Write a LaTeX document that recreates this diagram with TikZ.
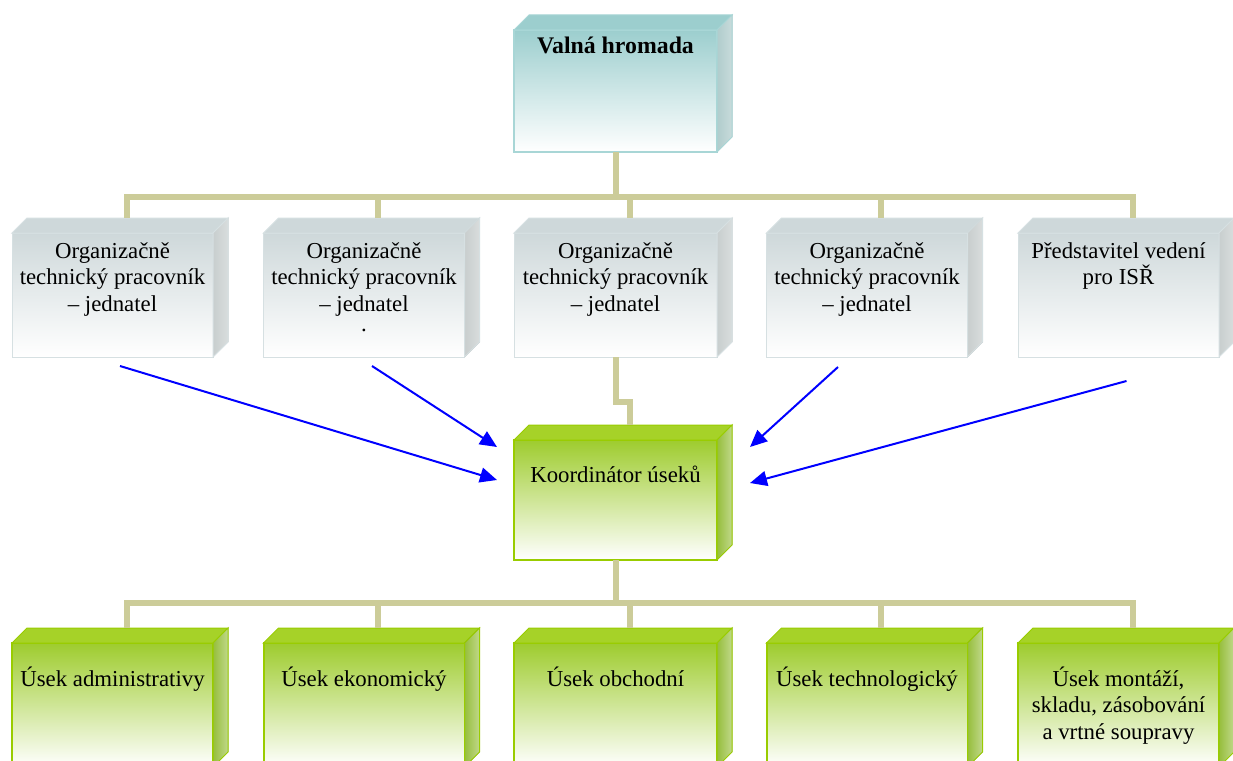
\documentclass[tikz,border=0pt]{standalone}
\usepackage{fontspec}
\setmainfont{Liberation Serif}
\usetikzlibrary{calc,arrows.meta}
\definecolor{connc}{RGB}{204,204,153}
\definecolor{tealA}{RGB}{156,206,206}
\definecolor{tealB}{RGB}{168,214,214}
\definecolor{tealS}{RGB}{176,204,204}
\definecolor{grayA}{RGB}{206,216,218}
\definecolor{grayB}{RGB}{214,224,226}
\definecolor{grayS}{RGB}{200,206,206}
\definecolor{greenA}{RGB}{158,204,46}
\definecolor{greenB}{RGB}{166,210,40}
\definecolor{greenS}{RGB}{150,190,60}
\definecolor{greenL}{RGB}{153,204,0}
\definecolor{arrowc}{RGB}{0,0,255}
\newcommand{\cubebox}[6]{%
  \node[#6front, minimum width=#4pt, minimum height=#5pt, anchor=north west,
        inner sep=0pt, outer sep=0pt] (#1) at (#2,#3) {};
  \filldraw[#6top] (#1.north west) -- ++(15,-15) -- ($(#1.north east)+(15,-15)$)
     -- (#1.north east) -- cycle;
  \filldraw[#6side] (#1.north east) -- ++(15,-15) -- ($(#1.south east)+(15,-15)$)
     -- (#1.south east) -- cycle;
  \coordinate (#1-t) at ($(#1.north)+(14,-15)$);
}
\begin{document}
\begin{tikzpicture}[x=1pt,y=-1pt,
  tealfront/.style={top color=tealA, bottom color=white, draw=tealB, line width=1.5pt},
  tealtop/.style={fill=tealA, draw=tealB, line width=1pt},
  tealside/.style={left color=tealS, right color=tealS!70!white, draw=tealB, line width=1pt},
  grayfront/.style={top color=grayA, bottom color=white, draw=grayB, line width=1pt},
  graytop/.style={fill=grayA, draw=grayB, line width=1pt},
  grayside/.style={left color=grayS, right color=grayS!70!white, draw=grayB, line width=1pt},
  greenfront/.style={top color=greenA, bottom color=white, draw=greenL, line width=2pt},
  greentop/.style={fill=greenB, draw=greenL, line width=1pt},
  greenside/.style={left color=greenS, right color=greenS!60!white, draw=greenL, line width=1pt},
  conn/.style={draw=connc, line width=6pt},
  arr/.style={draw=arrowc, line width=2pt, -{Triangle[length=17pt,width=15pt]}},
  lbl/.style={anchor=base, inner sep=0pt, font=\fontsize{22.8}{26.5}\selectfont},
  lblb/.style={anchor=base, inner sep=0pt, font=\fontsize{23.8}{27}\selectfont\bfseries}
]
\useasboundingbox (0,0) rectangle (1233,760);
\clip (0,0) rectangle (1233,760);
\fill[white] (0,0) rectangle (1233,760);

% boxes
\cubebox{va}{514}{30}{203}{122}{teal}
\cubebox{o1}{12}{233}{201}{124}{gray}
\cubebox{o2}{263.5}{233}{201}{124}{gray}
\cubebox{o3}{514}{233}{203}{124}{gray}
\cubebox{o4}{766.5}{233}{201}{124}{gray}
\cubebox{o5}{1018}{233}{201}{124}{gray}
\cubebox{ko}{514}{440}{203}{120}{green}
\cubebox{u1}{12}{643}{201}{124}{green}
\cubebox{u2}{263.5}{643}{201}{124}{green}
\cubebox{u3}{514}{643}{203}{124}{green}
\cubebox{u4}{766.5}{643}{201}{124}{green}
\cubebox{u5}{1018}{643}{201}{124}{green}

% connectors
\coordinate (bus1) at ($(va.south)+(0,45)$);
\draw[conn] (va.south) -- (bus1);
\foreach \n in {o1,o2,o3,o4,o5} \draw[conn] (bus1) -| (\n-t);
\draw[conn] (o3.south) -- ++(0,45) -| (ko-t);
\coordinate (bus2) at ($(ko.south)+(0,43)$);
\draw[conn] (ko.south) -- (bus2);
\foreach \n in {u1,u2,u3,u4,u5} \draw[conn] (bus2) -| (\n-t);

% labels
\node[lblb] (va-l) at ($(va.north)+(0,24)$) {Valná hromada};
\node[lbl] (o1-l) at ($(o1.north)+(0,25)$) {\parbox[t]{240pt}{\centering Organizačně\\technický pracovník\\– jednatel}};
\node[lbl] (o2-l) at ($(o2.north)+(0,25)$) {\parbox[t]{240pt}{\centering Organizačně\\technický pracovník\\– jednatel\\[-6.5pt].}};
\node[lbl] (o3-l) at ($(o3.north)+(0,25)$) {\parbox[t]{240pt}{\centering Organizačně\\technický pracovník\\– jednatel}};
\node[lbl] (o4-l) at ($(o4.north)+(0,25)$) {\parbox[t]{240pt}{\centering Organizačně\\technický pracovník\\– jednatel}};
\node[lbl] (o5-l) at ($(o5.north)+(0,25)$) {\parbox[t]{240pt}{\centering Představitel vedení\\pro ISŘ}};
\node[lbl] (ko-l) at ($(ko.north)+(0,42)$) {Koordinátor úseků};
\node[lbl] (u1-l) at ($(u1.north)+(0,43)$) {Úsek administrativy};
\node[lbl] (u2-l) at ($(u2.north)+(0,43)$) {Úsek ekonomický};
\node[lbl] (u3-l) at ($(u3.north)+(0,43)$) {Úsek obchodní};
\node[lbl] (u4-l) at ($(u4.north)+(0,43)$) {Úsek technologický};
\node[lbl] (u5-l) at ($(u5.north)+(0,43)$) {\parbox[t]{240pt}{\centering Úsek montáží,\\skladu, zásobování\\a vrtné soupravy}};

% arrows
\coordinate (a1s) at ($(o1.south)+(7.5,9)$);
\coordinate (a1e) at ($(ko.west)+(-17,-20)$);
\coordinate (a2s) at ($(o2.south)+(8,9)$);
\coordinate (a2e) at ($(ko.west)+(-17,-53)$);
\coordinate (a3s) at ($(o4.south)+(-29,10)$);
\coordinate (a3e) at ($(ko.east)+(33,-53)$);
\coordinate (a4s) at ($(o5.south)+(8,24)$);
\coordinate (a4e) at ($(ko.east)+(33,-17)$);
\draw[arr] (a1s) -- (a1e);
\draw[arr] (a2s) -- (a2e);
\draw[arr] (a3s) -- (a3e);
\draw[arr] (a4s) -- (a4e);
\end{tikzpicture}
\end{document}
